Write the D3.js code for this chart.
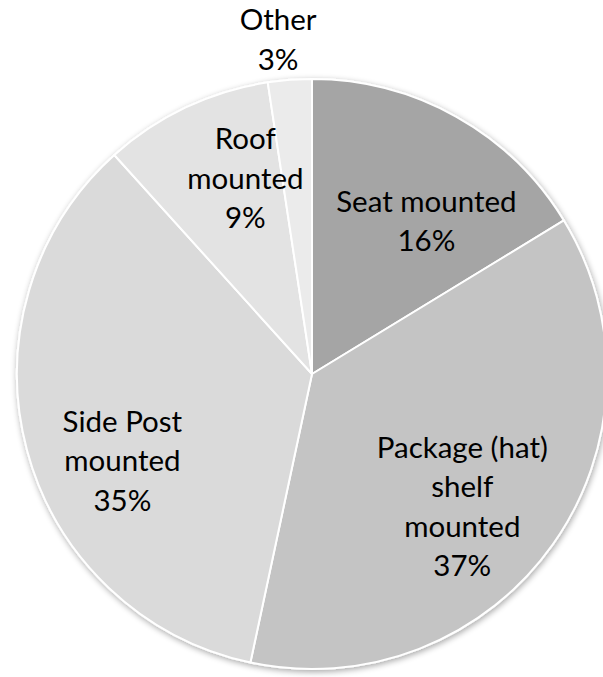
<!DOCTYPE html>
<html><head><meta charset="utf-8">
<script src="https://cdn.jsdelivr.net/npm/d3@7"></script>
<style>html,body{margin:0;padding:0;background:#fff;}svg{display:block;}</style>
</head><body>
<svg id="chart" width="603" height="677"></svg>
<script>
const categories = ["Seat mounted", "Package (hat) shelf mounted", "Side Post mounted", "Roof mounted", "Other"];
const labelLines = [["Seat mounted"], ["Package (hat)", "shelf", "mounted"], ["Side Post", "mounted"], ["Roof", "mounted"], ["Other"]];
const values = [16.3, 37.1, 35.0, 9.3, 2.4];
const percentLabels = ["16%", "37%", "35%", "9%", "3%"];
const colors = ["#a5a5a5", "#c4c4c4", "#dadada", "#e3e3e3", "#ebebeb"];

const svg = d3.select("#chart");
const cx = 312, cy = 374, R = 295;

const defs = svg.append("defs");
const f = defs.append("filter").attr("id","sh").attr("x","-10%").attr("y","-10%").attr("width","120%").attr("height","120%");
f.append("feGaussianBlur").attr("in","SourceAlpha").attr("stdDeviation",3).attr("result","b");
f.append("feOffset").attr("in","b").attr("dx",1).attr("dy",2).attr("result","o");
f.append("feComponentTransfer").attr("in","o").attr("result","o2").append("feFuncA").attr("type","linear").attr("slope",0.35);
const m = f.append("feMerge"); m.append("feMergeNode").attr("in","o2"); m.append("feMergeNode").attr("in","SourceGraphic");

const data = categories.map((c,i)=>({cat:c, value:values[i], lines:labelLines[i], pct:percentLabels[i], color:colors[i]}));
const pie = d3.pie().value(d=>d.value).sort(null);
const arcs = pie(data);
const arc = d3.arc().innerRadius(0).outerRadius(R);

const g = svg.append("g").attr("transform",`translate(${cx},${cy})`);
g.append("g").attr("filter","url(#sh)").selectAll("path").data(arcs).join("path")
  .attr("d",arc).attr("fill",d=>d.data.color).attr("stroke","#fff").attr("stroke-width",2).attr("stroke-linejoin","round");

// label placement radius & angle shift (fraction of slice) per slice
const labelR = [0.647, 0.68, 0.707, 0.70, 1.14];
const angShift = [0.128, 0.046, -0.076, 0.195, -0.17];
const lh = 39.5;
arcs.forEach((a,i)=>{
  const span = a.endAngle - a.startAngle;
  const ang = (a.startAngle + a.endAngle)/2 + angShift[i]*span;
  const r = R*labelR[i];
  const x = r*Math.sin(ang), y = -r*Math.cos(ang);
  const lines = a.data.lines.concat([a.data.pct]);
  const t = g.append("text").attr("text-anchor","middle")
    .attr("font-family","Lato, 'Open Sans', sans-serif").attr("font-size",29.5).attr("fill","#000");
  lines.forEach((L,k)=>{
    t.append("tspan").attr("x",x).attr("y", y + (k-(lines.length-1)/2)*lh).attr("dy","0.35em").text(L);
  });
});
</script>
</body></html>
